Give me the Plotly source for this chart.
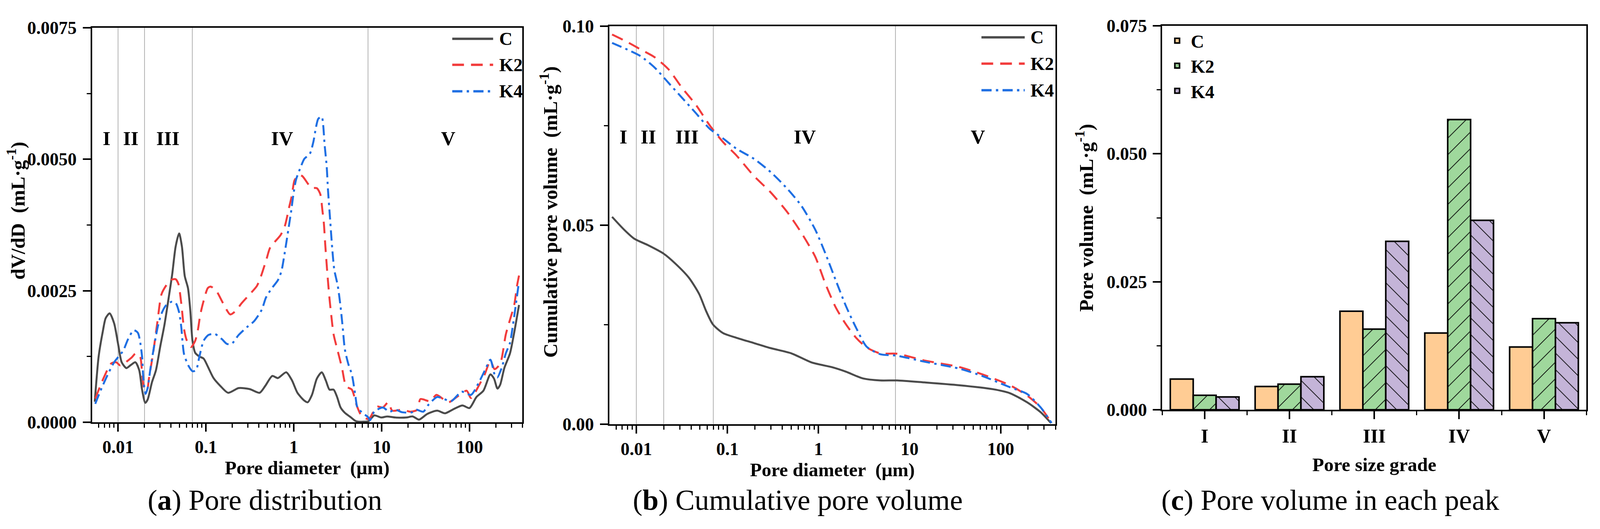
import math
import plotly.graph_objects as go

# ---------------- data ----------------
# (a) pore distribution dV/dD vs pore diameter (um)
d_c = [0.00543, 0.00601, 0.00671, 0.00723, 0.00802, 0.00902, 0.01005, 0.0110, 0.01245, 0.0140,
       0.01574, 0.0174, 0.01875, 0.0204, 0.0217, 0.0243, 0.0270, 0.0302, 0.0337, 0.0377,
       0.0413, 0.0452, 0.0495, 0.0533, 0.0574, 0.0625, 0.0665, 0.0703, 0.0755, 0.0843,
       0.0942, 0.105, 0.122, 0.146, 0.179, 0.236, 0.316, 0.408, 0.473, 0.569,
       0.659, 0.820, 0.951, 1.10, 1.32, 1.44, 1.61, 1.83, 2.08, 2.32,
       2.55, 2.84, 3.11, 3.41, 3.81, 4.41, 5.11, 6.14, 7.11, 8.24,
       9.89, 11.5, 14.3, 19.1, 22.6, 26.6, 33.2, 42.9, 52.5, 64.3,
       83.0, 99.8, 120, 144, 173, 190, 208, 223, 249, 289, 323, 366]
v_c = [0.00039, 0.00125, 0.00173, 0.00198, 0.00207, 0.00188, 0.00147, 0.00114, 0.00103, 0.00109,
       0.00114, 0.00099, 0.00062, 0.00037, 0.00043, 0.00076, 0.00099, 0.00144, 0.00185, 0.00237,
       0.00281, 0.00334, 0.00359, 0.00334, 0.00278, 0.00255, 0.00211, 0.00155, 0.00132, 0.00125,
       0.00121, 0.00106, 0.00084, 0.00069, 0.00056, 0.00065, 0.00063, 0.00056, 0.00069, 0.00088,
       0.00084, 0.00095, 0.00080, 0.00056, 0.00041, 0.00038, 0.00052, 0.00083, 0.00095, 0.00079,
       0.00062, 0.00062, 0.00048, 0.00028, 0.00018, 0.00010, 0.00002, 0.00001, 0.00002, 0.00013,
       0.00009, 0.00011, 0.00009, 0.00009, 0.00011, 0.00005, 0.00016, 0.00022, 0.00017, 0.00024,
       0.00032, 0.00027, 0.00048, 0.00060, 0.00091, 0.00083, 0.00064, 0.00071, 0.00103, 0.00131,
       0.00171, 0.00223]

d_k2 = [0.00550, 0.00684, 0.00838, 0.00953, 0.0106, 0.01426, 0.0159, 0.0178, 0.01875, 0.0198,
        0.0213, 0.0225, 0.0251, 0.0281, 0.0313, 0.0363, 0.0406, 0.0452, 0.0486, 0.0524,
        0.0564, 0.0607, 0.0678, 0.0755, 0.0813, 0.0859, 0.0925, 0.105, 0.113, 0.131,
        0.157, 0.189, 0.219, 0.254, 0.310, 0.380, 0.424, 0.491, 0.538, 0.708,
        0.791, 0.883, 0.951, 1.02, 1.14, 1.25, 1.58, 1.83, 2.00, 2.12,
        2.20, 2.28, 2.41, 2.55, 2.64, 2.84, 3.17, 3.54, 3.95, 4.58,
        5.20, 5.92, 7.11, 7.94, 8.85, 10.3, 11.9, 13.2, 17.1, 21.4,
        25.6, 27.6, 35.7, 42.1, 57.5, 71.6, 92.7, 104, 129, 149,
        173, 193, 223, 259, 289, 323, 347, 366]
v_k2 = [0.00045, 0.00084, 0.00112, 0.00114, 0.00108, 0.00123, 0.00131, 0.00125, 0.00095, 0.00065,
        0.00060, 0.00084, 0.00132, 0.00192, 0.00244, 0.00263, 0.00271, 0.00272, 0.00263, 0.00226,
        0.00177, 0.00155, 0.00143, 0.00155, 0.00177, 0.00203, 0.00226, 0.00255, 0.00258, 0.00250,
        0.00226, 0.00205, 0.00212, 0.00226, 0.00242, 0.00259, 0.00278, 0.00311, 0.00332, 0.00356,
        0.00373, 0.00408, 0.00431, 0.00460, 0.00470, 0.00468, 0.00446, 0.00445, 0.00434, 0.00402,
        0.00378, 0.00338, 0.00283, 0.00235, 0.00211, 0.00167, 0.00135, 0.00103, 0.00068, 0.00062,
        0.00032, 0.00012, 0.00006, 0.00018, 0.00030, 0.00028, 0.00038, 0.00022, 0.00024, 0.00020,
        0.00024, 0.00044, 0.00040, 0.00052, 0.00038, 0.00048, 0.00060, 0.00046, 0.00071, 0.00091,
        0.00117, 0.00101, 0.00111, 0.00167, 0.00195, 0.00223, 0.00259, 0.00279]

d_k4 = [0.0055, 0.00624, 0.0075, 0.00902, 0.01143, 0.0130, 0.01507, 0.0168, 0.01774, 0.01875,
        0.01945, 0.02056, 0.0217, 0.0234, 0.0261, 0.0286, 0.0313, 0.0350, 0.0406, 0.0452,
        0.0495, 0.0524, 0.0543, 0.0564, 0.0630, 0.0703, 0.0771, 0.0843, 0.0942, 0.107,
        0.126, 0.152, 0.173, 0.196, 0.236, 0.294, 0.353, 0.432, 0.482, 0.558,
        0.659, 0.723, 0.776, 0.836, 0.883, 0.933, 0.986, 1.06, 1.21, 1.32,
        1.52, 1.67, 1.79, 1.90, 2.08, 2.16, 2.24, 2.37, 2.45, 2.59,
        2.74, 2.89, 3.17, 3.41, 3.61, 3.81, 4.17, 4.58, 5.01, 5.30,
        6.14, 6.98, 7.38, 8.24, 10.3, 12.3, 14.3, 17.1, 22.2, 24.7,
        29.7, 34.4, 42.9, 51.5, 61.8, 81.5, 104, 129, 152, 173,
        193, 207, 232, 259, 289, 311, 334, 360]
v_k4 = [0.00035, 0.00058, 0.00088, 0.00114, 0.00136, 0.00158, 0.00175, 0.00170, 0.00155, 0.00125,
        0.00080, 0.00054, 0.00065, 0.00103, 0.00151, 0.00185, 0.00207, 0.00222, 0.00229, 0.00227,
        0.00209, 0.00181, 0.00151, 0.00129, 0.00108, 0.00097, 0.00099, 0.00125, 0.00155, 0.00166,
        0.00168, 0.00158, 0.00149, 0.00149, 0.00166, 0.00181, 0.00192, 0.00214, 0.00237, 0.00254,
        0.00270, 0.00287, 0.00315, 0.00349, 0.00375, 0.00401, 0.00431, 0.00461, 0.00487, 0.00501,
        0.00510, 0.00533, 0.00561, 0.00577, 0.00581, 0.00565, 0.00529, 0.00486, 0.00442, 0.00386,
        0.00330, 0.00290, 0.00259, 0.00219, 0.00179, 0.00139, 0.00111, 0.00091, 0.00052, 0.00028,
        0.00017, 0.00010, 0.00004, 0.00020, 0.00028, 0.00020, 0.00024, 0.00019, 0.00019, 0.00024,
        0.00020, 0.00034, 0.00048, 0.00044, 0.00040, 0.00058, 0.00052, 0.00077, 0.00101, 0.00119,
        0.00091, 0.00085, 0.00103, 0.00131, 0.00151, 0.00183, 0.00219, 0.00259]

# (b) cumulative pore volume
d_cum_c = [0.00542, 0.00733, 0.00951, 0.0134, 0.0198, 0.0267, 0.0378, 0.0490, 0.0582, 0.0692,
           0.0895, 0.126, 0.195, 0.300, 0.504, 0.845, 1.42, 2.00, 3.08, 4.75,
           7.31, 14.6, 34.6, 82.0, 126, 195, 275, 356]
cum_c = [0.0521, 0.0489, 0.0466, 0.0450, 0.0429, 0.0404, 0.0368, 0.0327, 0.0285, 0.0251,
         0.0229, 0.0217, 0.0204, 0.0191, 0.0178, 0.0155, 0.0143, 0.0132, 0.0115, 0.0110,
         0.0110, 0.0105, 0.0098, 0.0088, 0.0078, 0.0055, 0.0030, 0.0003]
d_cum_k = [0.00542, 0.0080, 0.01127, 0.0159, 0.0225, 0.0318, 0.0449, 0.0634, 0.0895, 0.126,
           0.195, 0.300, 0.461, 0.652, 0.920, 1.19, 1.55, 2.00, 2.59, 3.37,
           4.75, 7.31, 14.6, 34.6, 63.2, 126, 195, 275, 362]
cum_k2 = [0.0979, 0.0960, 0.0941, 0.0922, 0.0892, 0.0845, 0.0803, 0.0752, 0.0709, 0.0675,
          0.0624, 0.0582, 0.0531, 0.0480, 0.0421, 0.0353, 0.0293, 0.0251, 0.0217, 0.0193,
          0.0178, 0.0177, 0.0160, 0.0144, 0.0125, 0.0098, 0.0072, 0.0042, 0.0003]
cum_k4 = [0.0958, 0.0941, 0.0924, 0.0896, 0.0858, 0.0820, 0.0782, 0.0743, 0.0718, 0.0692,
          0.0667, 0.0633, 0.0590, 0.0548, 0.0489, 0.0429, 0.0361, 0.0297, 0.0242, 0.0195,
          0.0176, 0.0172, 0.0157, 0.0140, 0.0121, 0.0093, 0.0076, 0.0042, 0.0003]

# (c) pore volume in each peak
grades = ["I", "II", "III", "IV", "V"]
peak_c = [0.0060, 0.00455, 0.01925, 0.0150, 0.01226]
peak_k2 = [0.00283, 0.0050, 0.01575, 0.0567, 0.0178]
peak_k4 = [0.0025, 0.00646, 0.0329, 0.0370, 0.0170]

# grade boundaries and label positions on the diameter axis
boundaries = [0.01, 0.02, 0.07, 7]
label_pos = [0.0074, 0.0140, 0.037, 0.74, 57]
label_pos_b = [0.0072, 0.0136, 0.036, 0.71, 56]

# ---------------- styling ----------------
FONT = "Liberation Serif"
col_c, col_k2, col_k4 = "#4b4b4b", "#f23c3c", "#1f6fe3"
bar_c, bar_k2, bar_k4 = "#ffcc94", "#9fd89c", "#c4b4d8"
dash_k2 = "30px,18px"
dash_k4 = "26px,11px,6px,11px"
tickfont = dict(family=FONT, size=46, color="black", weight="bold")
xtitlefont = dict(family=FONT, size=49, color="black", weight="bold")
ytitlefont = dict(family=FONT, size=51, color="black", weight="bold")
legfont = dict(family=FONT, size=47, color="black", weight="bold")

fig = go.Figure()

series_a = [("C", d_c, v_c, col_c, "solid"),
            ("K2", d_k2, v_k2, col_k2, dash_k2),
            ("K4", d_k4, v_k4, col_k4, dash_k4)]
for name, xs, ys, col, dash in series_a:
    fig.add_trace(go.Scatter(x=xs, y=ys, name=name, mode="lines", showlegend=False,
                             line=dict(color=col, width=5, dash=dash, shape="spline", smoothing=0.7),
                             xaxis="x", yaxis="y"))

series_b = [("C", d_cum_c, cum_c, col_c, "solid"),
            ("K2", d_cum_k, cum_k2, col_k2, dash_k2),
            ("K4", d_cum_k, cum_k4, col_k4, dash_k4)]
for name, xs, ys, col, dash in series_b:
    fig.add_trace(go.Scatter(x=xs, y=ys, name=name, mode="lines", showlegend=False,
                             line=dict(color=col, width=5, dash=dash, shape="spline", smoothing=0.7),
                             xaxis="x2", yaxis="y2"))

grade_x = [1, 2, 3, 4, 5]
series_c = [("C", peak_c, bar_c, ""), ("K2", peak_k2, bar_k2, "/"), ("K4", peak_k4, bar_k4, "\\")]
for name, ys, col, shp in series_c:
    fig.add_trace(go.Bar(x=grade_x, y=ys, name=name, xaxis="x3", yaxis="y3", legend="legend",
                         marker=dict(color=col, line=dict(color="black", width=4),
                                     pattern=dict(shape=shp, fgcolor="black", bgcolor=col,
                                                  size=30, solidity=0.06, fillmode="replace"))))

# axes
xr = [math.log10(0.00505), math.log10(400)]
minor_log = [k * 10 ** e for e in range(-3, 3) for k in range(2, 10)]
log_axis = dict(type="log", range=xr, tickvals=[0.01, 0.1, 1, 10, 100],
                ticktext=["0.01", "0.1", "1", "10", "100"],
                ticks="outside", ticklen=20, tickwidth=4, tickcolor="black",
                minor=dict(tickvals=minor_log, ticks="outside", ticklen=10, tickwidth=3,
                           tickcolor="black", showgrid=False),
                showline=True, linewidth=4, linecolor="black", mirror=True, automargin=False,
                showgrid=False, zeroline=False, tickfont=tickfont, ticklabelstandoff=0,
                title=dict(text="Pore diameter  (μm)", font=xtitlefont, standoff=0))
y_common = dict(ticks="outside", ticklen=20, tickwidth=4, tickcolor="black", automargin=False,
                showline=True, linewidth=4, linecolor="black", mirror=True,
                showgrid=False, zeroline=False, tickfont=tickfont, ticklabelstandoff=6)

fig.update_layout(
    autosize=True,
    margin=dict(l=0, r=0, t=0, b=0),
    paper_bgcolor="white", plot_bgcolor="white",
    barmode="group", bargap=0.19, bargroupgap=0,
    xaxis=dict(domain=[0.0575, 0.3265], anchor="y", **log_axis),
    yaxis=dict(domain=[0.2018, 0.9475], anchor="x", range=[0, 0.0075], tickvals=[0, 0.0025, 0.005, 0.0075],
               tickformat=".4f", minor=dict(dtick=0.00125, ticks="outside", ticklen=10, tickwidth=3,
                                            tickcolor="black", showgrid=False), **y_common),
    xaxis2=dict(domain=[0.3808, 0.6597], anchor="y2", **log_axis),
    yaxis2=dict(domain=[0.1981, 0.9505], anchor="x2", range=[0, 0.10], tickvals=[0, 0.05, 0.10],
                tickformat=".2f", minor=dict(dtick=0.025, ticks="outside", ticklen=10, tickwidth=3,
                                             tickcolor="black", showgrid=False), **y_common),
    xaxis3=dict(domain=[0.7264, 0.9915], anchor="y3", range=[0.5, 5.5], tickvals=grade_x, ticktext=grades,
                ticks="outside", ticklen=20, tickwidth=4, tickcolor="black", automargin=False,
                minor=dict(tick0=0.5, dtick=1, ticks="outside", ticklen=10, tickwidth=3,
                           tickcolor="black", showgrid=False),
                showline=True, linewidth=4, linecolor="black", mirror=True, showgrid=False,
                zeroline=False, tickfont=dict(family=FONT, size=50, color="black", weight="bold"),
                ticklabelstandoff=0,
                title=dict(text="Pore size grade", font=xtitlefont, standoff=30)),
    yaxis3=dict(domain=[0.2254, 0.9512], anchor="x3", range=[0, 0.075], tickvals=[0, 0.025, 0.05, 0.075],
                tickformat=".3f", minor=dict(dtick=0.0125, ticks="outside", ticklen=10, tickwidth=3,
                                             tickcolor="black", showgrid=False), **y_common),
    legend=dict(x=0.7272, xanchor="left", y=0.9505, yanchor="top", bgcolor="rgba(0,0,0,0)",
                font=legfont, itemwidth=60, tracegroupgap=6),
)

# y axis titles (placed as in the reference, slightly above centre for a and b)
ytitles = ["dV/dD  (mL·g<sup>-1</sup>)", "Cumulative pore volume  (mL·g<sup>-1</sup>)",
           "Pore volume  (mL·g<sup>-1</sup>)"]
ytitle_xy = [(44 / 4364, 1 - 539 / 1353), (1497 / 4364, 1 - 542 / 1353), (2958 / 4364, 1 - 557 / 1353)]
for txt, (tx, ty) in zip(ytitles, ytitle_xy):
    fig.add_annotation(x=tx, y=ty, xref="paper", yref="paper", text=txt, textangle=-90,
                       showarrow=False, xanchor="center", yanchor="middle", font=ytitlefont)

# grade boundary lines and roman labels on (a) and (b)
for xa, ya in [("x", "y"), ("x2", "y2")]:
    for b in boundaries:
        fig.add_shape(type="line", xref=xa, yref=ya + " domain", x0=b, x1=b, y0=0, y1=1,
                      line=dict(color="#9a9a9a", width=1.5), layer="below")

for lab, px_, in zip(grades, label_pos):
    fig.add_annotation(x=math.log10(px_), y=0.0054, xref="x", yref="y", text=lab, showarrow=False,
                       font=dict(family=FONT, size=51, color="black", weight="bold"))
for lab, px_ in zip(grades, label_pos_b):
    fig.add_annotation(x=math.log10(px_), y=0.0722, xref="x2", yref="y2", text=lab, showarrow=False,
                       font=dict(family=FONT, size=51, color="black", weight="bold"))

# line legends of (a) and (b), drawn inside the top right corner of each frame
leg_rows = [0.972, 0.906, 0.839]
leg_items = [("C", col_c, "solid"), ("K2", col_k2, dash_k2), ("K4", col_k4, dash_k4)]
for xa, ya, x0, x1, xt in [("x", "y", 0.837, 0.932, 0.944), ("x2", "y2", 0.834, 0.931, 0.942)]:
    for (name, col, dash), yr in zip(leg_items, leg_rows):
        fig.add_shape(type="line", xref=xa + " domain", yref=ya + " domain", x0=x0, x1=x1, y0=yr, y1=yr,
                      line=dict(color=col, width=6, dash=dash))
        fig.add_annotation(x=xt, y=yr, xref=xa + " domain", yref=ya + " domain", text=name,
                           showarrow=False, xanchor="left", yanchor="middle", font=legfont)

# captions
captions = ["(<b>a</b>) Pore distribution", "(<b>b</b>) Cumulative pore volume",
            "(<b>c</b>) Pore volume in each peak"]
cap_x = [722 / 4364, 2176 / 4364, 3628 / 4364]
for txt, cx in zip(captions, cap_x):
    fig.add_annotation(x=cx, y=0.0547, xref="paper", yref="paper", text=txt, showarrow=False,
                       xanchor="center", yanchor="middle",
                       font=dict(family=FONT, size=74, color="black"))

# let the figure fill the browser window whatever its size
post = ("document.body.style.margin='0';"
        "document.documentElement.style.overflow='hidden';"
        "var gd=document.getElementById('{plot_id}');"
        "gd.style.width='100vw';gd.style.height='100vh';"
        "Plotly.Plots.resize(gd);")
fig.write_html("out.html", post_script=post, config={"displayModeBar": False})
